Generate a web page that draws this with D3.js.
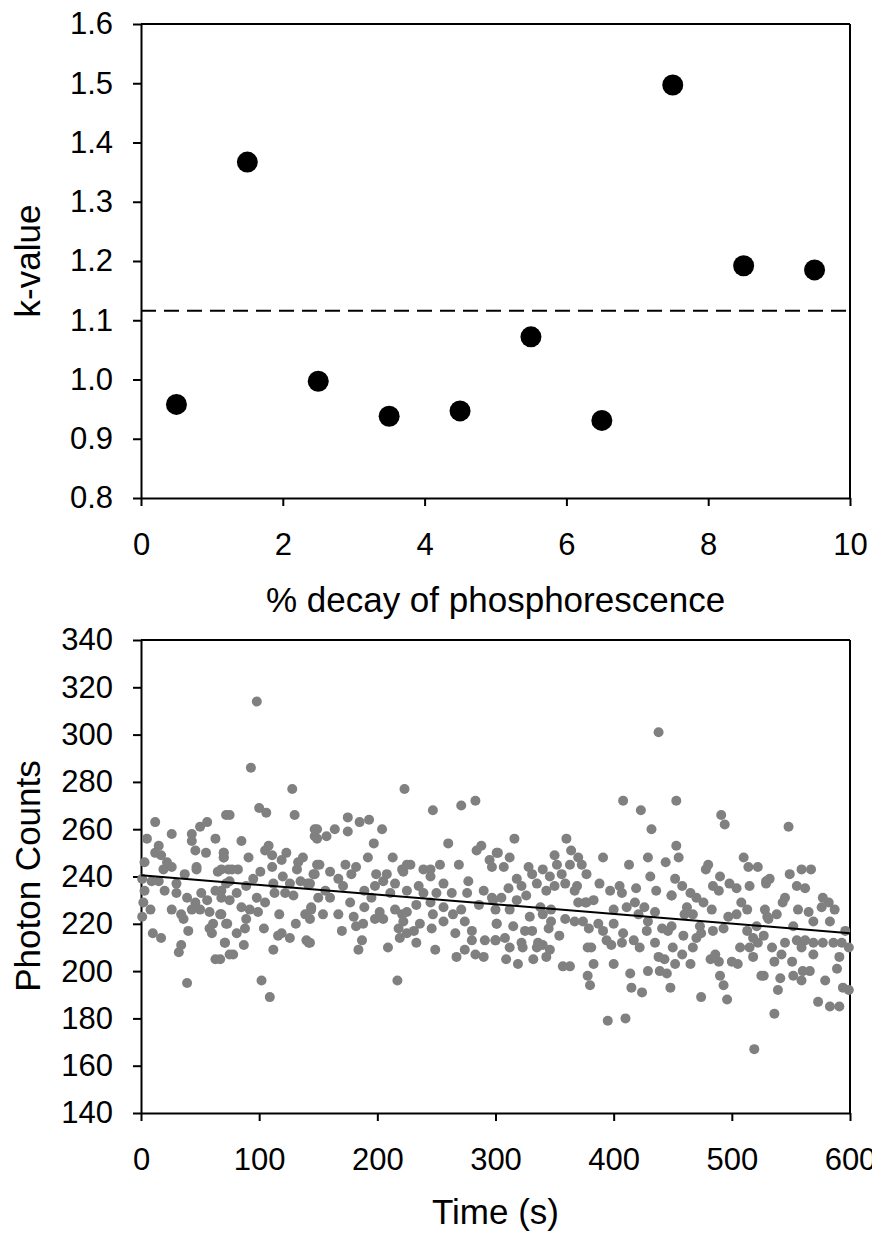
<!DOCTYPE html>
<html>
<head>
<meta charset="utf-8">
<script src="https://cdn.jsdelivr.net/npm/d3@7"></script>
<style>
  body { margin: 0; background: #fff; }
  svg { display: block; font-family: "Liberation Sans", Arial, sans-serif; }
</style>
</head>
<body>
<div id="chart"></div>
<script>
// Top panel: k-value per % decay bin
var decayPct = [0.5, 1.5, 2.5, 3.5, 4.5, 5.5, 6.5, 7.5, 8.5, 9.5];
var kValue = [0.958, 1.367, 0.997, 0.938, 0.947, 1.072, 0.931, 1.497, 1.192, 1.185];
var kMean = 1.116;
var decayTicks = [0, 2, 4, 6, 8, 10];
var kTicks = [0.8, 0.9, 1.0, 1.1, 1.2, 1.3, 1.4, 1.5, 1.6];

// Bottom panel: photon counts over time [time (s), counts]
var photonData = [
  [12,263],[26,258],[5,256],[56,263],[50,261],[43,258],[63,256],[72,266],[43,255],[46,251],[55,250],[70,250],[70,248],[15,253],[12,250],[17,249],[3,246],[22,246],[26,244],[19,243],[47,244],[47,243],[37,241],[65,242],[1,239],[9,238],[15,238],[30,237],[74,243],[63,234],[72,237],[3,234],[20,234],[30,233],[39,231],[51,233],[56,230],[68,231],[46,229],[2,229],[8,226],[26,226],[34,224],[43,226],[50,226],[58,225],[67,224],[36,222],[1,223],[72,220],[61,220],[58,218],[60,216],[40,217],[10,216],[17,214],[71,212],[34,211],[32,208],[75,207],[63,205],[39,195],
  [93,286],[128,277],[75,266],[100,269],[106,267],[130,266],[147,260],[149,256],[85,255],[70,250],[70,248],[91,248],[108,253],[105,251],[111,249],[123,250],[119,247],[137,248],[133,246],[149,245],[111,244],[101,242],[77,243],[82,243],[68,243],[132,243],[147,241],[120,240],[95,239],[75,238],[135,238],[141,237],[112,237],[126,237],[89,236],[68,234],[81,233],[113,233],[122,233],[129,232],[98,231],[105,229],[75,230],[85,227],[92,226],[99,225],[68,224],[144,227],[139,224],[143,222],[117,224],[89,222],[73,220],[131,220],[104,218],[88,218],[81,216],[119,216],[116,215],[126,214],[71,212],[87,211],[140,213],[142,212],[78,207],[112,209],[67,205],[102,196],[109,189],[98,314],
  [223,277],[175,265],[185,263],[193,264],[204,260],[149,260],[147,257],[157,257],[164,260],[175,259],[197,254],[192,248],[213,248],[151,245],[173,245],[182,244],[225,245],[221,243],[160,242],[146,241],[178,241],[167,239],[199,241],[208,241],[198,236],[215,237],[205,238],[143,237],[156,234],[171,236],[189,234],[211,233],[150,231],[160,231],[177,229],[195,231],[225,234],[144,226],[154,224],[167,224],[180,223],[189,227],[202,225],[198,222],[215,226],[205,222],[221,224],[182,219],[188,220],[218,218],[170,217],[225,216],[219,214],[143,212],[187,213],[184,209],[209,210],[217,196],
  [247,268],[271,270],[283,272],[260,254],[284,251],[288,253],[301,250],[295,247],[297,244],[228,245],[239,243],[253,245],[269,245],[222,242],[245,243],[245,240],[256,237],[277,238],[235,236],[250,233],[263,233],[276,233],[290,234],[239,233],[298,230],[286,228],[233,228],[245,229],[256,227],[264,224],[271,226],[225,225],[222,221],[236,220],[247,224],[256,221],[274,221],[301,220],[231,217],[246,218],[266,216],[280,217],[233,212],[280,213],[291,213],[300,213],[249,209],[267,206],[274,209],[283,207],[290,206],
  [316,256],[360,256],[364,251],[302,250],[312,248],[350,249],[370,248],[307,244],[328,244],[352,245],[363,245],[373,245],[340,243],[331,241],[346,240],[356,241],[377,241],[318,239],[335,237],[359,237],[369,236],[311,235],[322,236],[343,234],[350,236],[367,234],[297,231],[305,231],[326,232],[318,230],[300,226],[312,226],[338,227],[347,226],[370,229],[377,229],[329,223],[340,224],[359,222],[367,221],[301,220],[315,219],[347,221],[325,217],[331,217],[345,218],[354,215],[300,213],[308,214],[322,212],[336,212],[323,210],[312,210],[335,210],[340,211],[346,209],[343,206],[309,205],[319,203],[332,205],[357,202],[363,202],[378,210],[378,198],
  [408,272],[423,268],[453,272],[432,260],[453,253],[455,248],[391,248],[413,245],[429,248],[444,246],[431,240],[452,239],[388,237],[397,234],[405,236],[407,233],[419,235],[436,234],[449,232],[383,230],[376,229],[418,229],[400,226],[411,227],[426,227],[435,225],[421,224],[374,221],[387,220],[400,220],[429,221],[441,218],[446,217],[379,218],[391,217],[428,217],[408,216],[394,213],[398,211],[407,212],[417,213],[422,210],[435,212],[450,210],[381,210],[438,206],[443,205],[452,203],[439,200],[445,199],[383,203],[400,203],[414,199],[429,200],[380,194],[415,193],[424,191],[448,193],[395,179],[410,180],[438,301],
  [491,266],[494,262],[480,245],[478,243],[510,248],[514,244],[522,244],[529,238],[458,236],[449,232],[490,240],[484,236],[489,234],[498,237],[504,235],[515,236],[465,233],[470,231],[476,229],[483,226],[462,227],[460,224],[467,224],[508,229],[513,226],[528,226],[497,223],[504,224],[530,223],[449,219],[473,219],[484,217],[493,218],[513,217],[521,219],[459,215],[470,214],[474,216],[518,214],[527,215],[467,210],[507,210],[515,210],[522,212],[458,207],[486,207],[518,206],[465,203],[482,205],[489,204],[500,204],[505,203],[490,198],[525,198],[493,194],[474,189],[496,188],
  [548,261],[559,243],[567,243],[532,239],[529,237],[549,241],[555,236],[562,235],[545,231],[543,229],[577,231],[582,229],[587,226],[576,227],[538,224],[531,222],[556,226],[565,225],[569,221],[583,221],[552,219],[596,217],[534,210],[545,212],[555,213],[562,213],[569,212],[577,212],[586,212],[593,212],[599,210],[559,210],[569,207],[542,207],[536,204],[551,204],[591,206],[589,201],[527,198],[541,197],[552,198],[560,200],[566,200],[579,196],[559,196],[594,193],[599,192],[539,192],[573,187],[583,185],[591,185],[536,182],[519,167]
];
var trendTime = [0, 600];
var trendCounts = [240.5, 216];
var timeTicks = [0, 100, 200, 300, 400, 500, 600];
var countTicks = [140, 160, 180, 200, 220, 240, 260, 280, 300, 320, 340];

var W = 872, H = 1236;
var svg = d3.select("#chart").append("svg")
    .attr("width", W)
    .attr("height", H);
svg.append("rect").attr("width", W).attr("height", H).style("fill", "white");

var left = 141, right = 850;
var tickFont = 31, titleFont = 35;

// draws a boxed panel and returns its group + scales
function panel(top, bottom, xDomain, yDomain, xTicks, yTicks, yFmt) {
    var g = svg.append("g");
    var x = d3.scaleLinear().domain(xDomain).range([left, right]);
    var y = d3.scaleLinear().domain(yDomain).range([bottom, top]);

    var xAxis = g.append("g")
        .attr("transform", "translate(0," + bottom + ")")
        .call(d3.axisBottom(x).tickValues(xTicks).tickSize(8).tickSizeOuter(0).tickPadding(27));
    var yAxis = g.append("g")
        .attr("transform", "translate(" + left + ",0)")
        .call(d3.axisLeft(y).tickValues(yTicks).tickSize(8).tickSizeOuter(0).tickPadding(20).tickFormat(yFmt));

    [xAxis, yAxis].forEach(function (a) {
        a.selectAll("path, line").style("stroke", "#000").style("stroke-width", 2);
        a.selectAll("text").style("font-size", tickFont + "px").style("fill", "#000")
            .style("font-family", "'Liberation Sans', Arial, sans-serif");
    });

    // top and right border
    g.append("line").attr("x1", left).attr("x2", right).attr("y1", top).attr("y2", top)
        .style("stroke", "#000").style("stroke-width", 2);
    g.append("line").attr("x1", right).attr("x2", right).attr("y1", top).attr("y2", bottom)
        .style("stroke", "#000").style("stroke-width", 2);
    return { g: g, x: x, y: y };
}

// ---- top panel ----
var p1 = panel(24, 498, [0, 10], [0.8, 1.6], decayTicks, kTicks, d3.format(".1f"));

p1.g.append("line")
    .attr("x1", p1.x(0)).attr("x2", p1.x(10))
    .attr("y1", p1.y(kMean)).attr("y2", p1.y(kMean))
    .style("stroke", "#000").style("stroke-width", 2)
    .style("stroke-dasharray", "15,8");

p1.g.selectAll("circle")
    .data(decayPct)
    .enter()
    .append("circle")
    .attr("cx", function (d) { return p1.x(d); })
    .attr("cy", function (d, i) { return p1.y(kValue[i]); })
    .attr("r", 10.5)
    .style("fill", "#000");

svg.append("text")
    .attr("text-anchor", "middle")
    .attr("x", (left + right) / 2)
    .attr("y", 612)
    .style("font-size", titleFont + "px")
    .text("% decay of phosphorescence");

svg.append("text")
    .attr("text-anchor", "middle")
    .attr("transform", "rotate(-90)")
    .attr("x", -261)
    .attr("y", 40)
    .style("font-size", titleFont + "px")
    .text("k-value");

// ---- bottom panel ----
var p2 = panel(640, 1113, [0, 600], [140, 340], timeTicks, countTicks, d3.format("d"));

p2.g.append("g")
    .selectAll("circle")
    .data(photonData)
    .enter()
    .append("circle")
    .attr("cx", function (d) { return p2.x(d[0]); })
    .attr("cy", function (d) { return p2.y(d[1]); })
    .attr("r", 5)
    .style("fill", "#808080");

p2.g.append("line")
    .attr("x1", p2.x(trendTime[0])).attr("x2", p2.x(trendTime[1]))
    .attr("y1", p2.y(trendCounts[0])).attr("y2", p2.y(trendCounts[1]))
    .style("stroke", "#000").style("stroke-width", 2);

svg.append("text")
    .attr("text-anchor", "middle")
    .attr("x", (left + right) / 2)
    .attr("y", 1224)
    .style("font-size", titleFont + "px")
    .text("Time (s)");

svg.append("text")
    .attr("text-anchor", "middle")
    .attr("transform", "rotate(-90)")
    .attr("x", -876)
    .attr("y", 40)
    .style("font-size", titleFont + "px")
    .text("Photon Counts");
</script>
</body>
</html>
